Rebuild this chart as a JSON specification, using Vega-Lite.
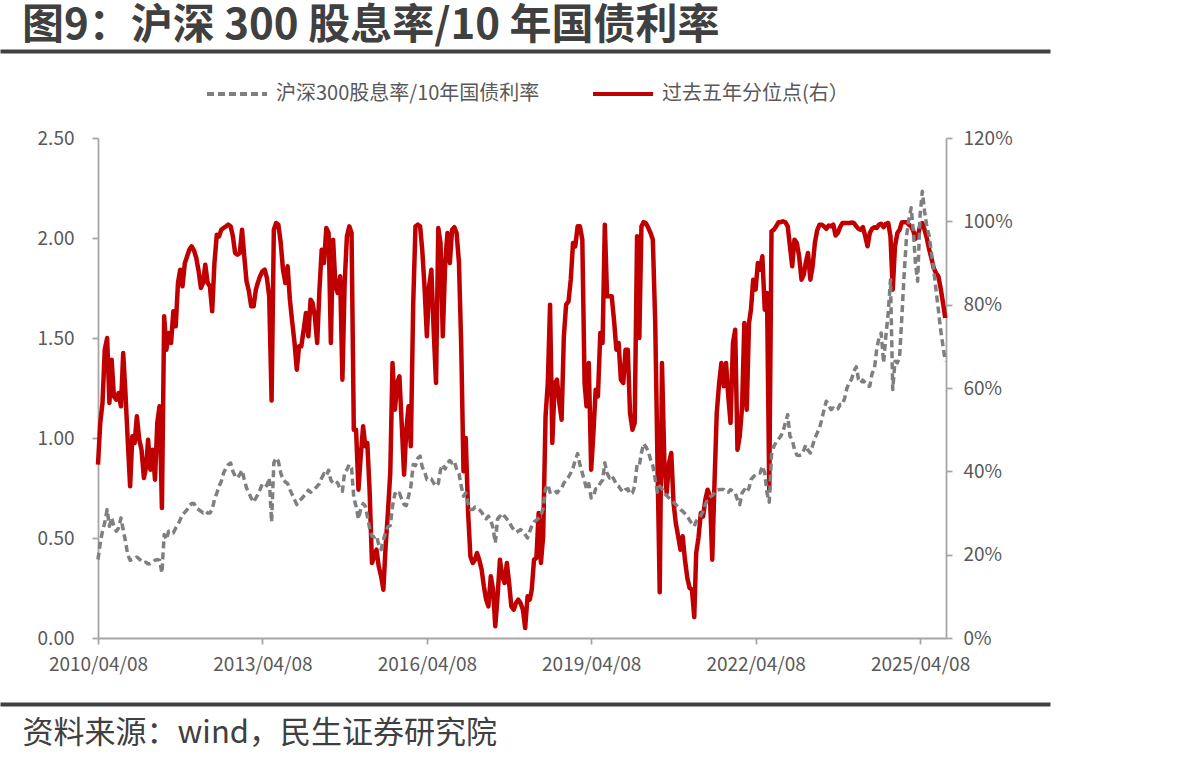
{
  "$schema": "https://vega.github.io/schema/vega-lite/v6.json",
  "width": 848,
  "height": 500,
  "autosize": "none",
  "padding": {"left": 98, "top": 138, "right": 253, "bottom": 127},
  "background": "white",
  "title": {
    "text": "图9：沪深 300 股息率/10 年国债利率",
    "orient": "top",
    "anchor": "start",
    "frame": "group",
    "baseline": "bottom",
    "offset": 1,
    "dx": -76,
    "dy": 40,
    "font": "Noto Sans CJK SC",
    "fontSize": 42,
    "fontWeight": "bold",
    "color": "#404040"
  },
  "config": {
    "view": {"stroke": null},
    "font": "Noto Sans CJK SC",
    "axis": {
      "labelFont": "Noto Sans CJK SC",
      "labelFontSize": 19,
      "labelColor": "#595959",
      "domainColor": "#a6a6a6",
      "domainWidth": 1.8,
      "tickColor": "#a6a6a6",
      "tickWidth": 1.8,
      "tickSize": 6,
      "grid": false,
      "titleFont": "Noto Sans CJK SC"
    }
  },
  "data": {
    "values": [
      {"d":"2010/04/08","r":0.392,"p":0.416},{"d":"2010/04/23","r":0.476,"p":0.516},{"d":"2010/05/08","r":0.534,"p":0.564},{"d":"2010/05/23","r":0.576,"p":0.692},
      {"d":"2010/06/08","r":0.642,"p":0.72},{"d":"2010/06/23","r":0.559,"p":0.564},{"d":"2010/07/08","r":0.6,"p":0.668},{"d":"2010/07/23","r":0.559,"p":0.58},
      {"d":"2010/08/08","r":0.534,"p":0.572},{"d":"2010/08/23","r":0.55,"p":0.588},{"d":"2010/09/08","r":0.6,"p":0.556},{"d":"2010/09/23","r":0.542,"p":0.684},
      {"d":"2010/10/08","r":0.484,"p":0.588},{"d":"2010/10/23","r":0.417,"p":0.476},{"d":"2010/11/08","r":0.389,"p":0.364},{"d":"2010/11/23","r":0.392,"p":0.484},
      {"d":"2010/12/08","r":0.395,"p":0.468},{"d":"2010/12/23","r":0.405,"p":0.532},{"d":"2011/01/08","r":0.395,"p":0.476},{"d":"2011/01/23","r":0.384,"p":0.452},
      {"d":"2011/02/08","r":0.376,"p":0.384},{"d":"2011/02/23","r":0.379,"p":0.412},{"d":"2011/03/08","r":0.37,"p":0.476},{"d":"2011/03/23","r":0.372,"p":0.404},
      {"d":"2011/04/08","r":0.379,"p":0.452},{"d":"2011/04/23","r":0.389,"p":0.38},{"d":"2011/05/08","r":0.392,"p":0.516},{"d":"2011/05/23","r":0.389,"p":0.556},
      {"d":"2011/06/08","r":0.325,"p":0.312},{"d":"2011/06/23","r":0.517,"p":0.772},{"d":"2011/07/08","r":0.492,"p":0.692},{"d":"2011/07/23","r":0.534,"p":0.732},
      {"d":"2011/08/08","r":0.534,"p":0.708},{"d":"2011/08/23","r":0.525,"p":0.784},{"d":"2011/09/08","r":0.55,"p":0.748},{"d":"2011/09/23","r":0.567,"p":0.852},
      {"d":"2011/10/08","r":0.592,"p":0.884},{"d":"2011/10/23","r":0.617,"p":0.844},{"d":"2011/11/08","r":0.629,"p":0.9},{"d":"2011/11/23","r":0.642,"p":0.916},
      {"d":"2011/12/08","r":0.662,"p":0.932},{"d":"2011/12/23","r":0.672,"p":0.94},{"d":"2012/01/08","r":0.672,"p":0.93},{"d":"2012/01/23","r":0.65,"p":0.912},
      {"d":"2012/02/08","r":0.642,"p":0.88},{"d":"2012/02/23","r":0.634,"p":0.84},{"d":"2012/03/08","r":0.625,"p":0.852},{"d":"2012/03/23","r":0.634,"p":0.896},
      {"d":"2012/04/08","r":0.625,"p":0.852},{"d":"2012/04/23","r":0.625,"p":0.844},{"d":"2012/05/08","r":0.642,"p":0.784},{"d":"2012/05/23","r":0.692,"p":0.9},
      {"d":"2012/06/08","r":0.725,"p":0.968},{"d":"2012/06/23","r":0.759,"p":0.964},{"d":"2012/07/08","r":0.784,"p":0.98},{"d":"2012/07/23","r":0.825,"p":0.984},
      {"d":"2012/08/08","r":0.85,"p":0.988},{"d":"2012/08/23","r":0.867,"p":0.992},{"d":"2012/09/08","r":0.875,"p":0.988},{"d":"2012/09/23","r":0.834,"p":0.964},
      {"d":"2012/10/08","r":0.809,"p":0.924},{"d":"2012/10/23","r":0.8,"p":0.92},{"d":"2012/11/08","r":0.817,"p":0.924},{"d":"2012/11/23","r":0.839,"p":0.98},
      {"d":"2012/12/08","r":0.792,"p":0.916},{"d":"2012/12/23","r":0.75,"p":0.856},{"d":"2013/01/08","r":0.725,"p":0.832},{"d":"2013/01/23","r":0.7,"p":0.796},
      {"d":"2013/02/08","r":0.679,"p":0.796},{"d":"2013/02/23","r":0.7,"p":0.836},{"d":"2013/03/08","r":0.717,"p":0.852},{"d":"2013/03/23","r":0.742,"p":0.868},
      {"d":"2013/04/08","r":0.772,"p":0.88},{"d":"2013/04/23","r":0.772,"p":0.884},{"d":"2013/05/08","r":0.762,"p":0.864},{"d":"2013/05/23","r":0.8,"p":0.82},
      {"d":"2013/06/08","r":0.58,"p":0.57},{"d":"2013/06/23","r":0.876,"p":0.98},{"d":"2013/07/08","r":0.9,"p":0.996},{"d":"2013/07/23","r":0.884,"p":0.992},
      {"d":"2013/08/08","r":0.825,"p":0.948},{"d":"2013/08/23","r":0.792,"p":0.884},{"d":"2013/09/08","r":0.78,"p":0.852},{"d":"2013/09/23","r":0.772,"p":0.892},
      {"d":"2013/10/08","r":0.742,"p":0.812},{"d":"2013/10/23","r":0.717,"p":0.76},{"d":"2013/11/08","r":0.692,"p":0.708},{"d":"2013/11/23","r":0.667,"p":0.644},
      {"d":"2013/12/08","r":0.684,"p":0.7},{"d":"2013/12/23","r":0.695,"p":0.7},{"d":"2014/01/08","r":0.709,"p":0.74},{"d":"2014/01/23","r":0.722,"p":0.78},
      {"d":"2014/02/08","r":0.739,"p":0.724},{"d":"2014/02/23","r":0.729,"p":0.812},{"d":"2014/03/08","r":0.739,"p":0.804},{"d":"2014/03/23","r":0.746,"p":0.772},
      {"d":"2014/04/08","r":0.759,"p":0.708},{"d":"2014/04/23","r":0.772,"p":0.836},{"d":"2014/05/08","r":0.8,"p":0.932},{"d":"2014/05/23","r":0.822,"p":0.9},
      {"d":"2014/06/08","r":0.812,"p":0.984},{"d":"2014/06/23","r":0.839,"p":0.972},{"d":"2014/07/08","r":0.789,"p":0.708},{"d":"2014/07/23","r":0.775,"p":0.956},
      {"d":"2014/08/08","r":0.784,"p":0.844},{"d":"2014/08/23","r":0.775,"p":0.828},{"d":"2014/09/08","r":0.742,"p":0.868},{"d":"2014/09/23","r":0.734,"p":0.62},
      {"d":"2014/10/08","r":0.829,"p":0.852},{"d":"2014/10/23","r":0.842,"p":0.964},{"d":"2014/11/08","r":0.867,"p":0.988},{"d":"2014/11/23","r":0.85,"p":0.972},
      {"d":"2014/12/08","r":0.7,"p":0.5},{"d":"2014/12/23","r":0.659,"p":0.5},{"d":"2015/01/08","r":0.595,"p":0.356},{"d":"2015/01/23","r":0.645,"p":0.436},
      {"d":"2015/02/08","r":0.672,"p":0.508},{"d":"2015/02/23","r":0.659,"p":0.46},{"d":"2015/03/08","r":0.609,"p":0.468},{"d":"2015/03/23","r":0.55,"p":0.356},
      {"d":"2015/04/08","r":0.509,"p":0.18},{"d":"2015/04/23","r":0.505,"p":0.196},{"d":"2015/05/08","r":0.512,"p":0.212},{"d":"2015/05/23","r":0.467,"p":0.172},
      {"d":"2015/06/08","r":0.442,"p":0.148},{"d":"2015/06/23","r":0.489,"p":0.116},{"d":"2015/07/08","r":0.529,"p":0.22},{"d":"2015/07/23","r":0.555,"p":0.3},
      {"d":"2015/08/08","r":0.562,"p":0.396},{"d":"2015/08/23","r":0.659,"p":0.66},{"d":"2015/09/08","r":0.722,"p":0.548},{"d":"2015/09/23","r":0.712,"p":0.612},
      {"d":"2015/10/08","r":0.725,"p":0.628},{"d":"2015/10/23","r":0.695,"p":0.516},{"d":"2015/11/08","r":0.667,"p":0.392},{"d":"2015/11/23","r":0.662,"p":0.5},
      {"d":"2015/12/08","r":0.709,"p":0.556},{"d":"2015/12/23","r":0.755,"p":0.46},{"d":"2016/01/08","r":0.867,"p":0.804},{"d":"2016/01/23","r":0.862,"p":0.988},
      {"d":"2016/02/08","r":0.9,"p":0.992},{"d":"2016/02/23","r":0.909,"p":0.988},{"d":"2016/03/08","r":0.855,"p":0.932},{"d":"2016/03/23","r":0.834,"p":0.844},
      {"d":"2016/04/08","r":0.792,"p":0.724},{"d":"2016/04/23","r":0.795,"p":0.844},{"d":"2016/05/08","r":0.795,"p":0.884},{"d":"2016/05/23","r":0.775,"p":0.74},
      {"d":"2016/06/08","r":0.759,"p":0.612},{"d":"2016/06/23","r":0.772,"p":0.984},{"d":"2016/07/08","r":0.842,"p":0.948},{"d":"2016/07/23","r":0.867,"p":0.724},
      {"d":"2016/08/08","r":0.845,"p":0.9},{"d":"2016/08/23","r":0.875,"p":0.972},{"d":"2016/09/08","r":0.887,"p":0.9},{"d":"2016/09/23","r":0.875,"p":0.98},
      {"d":"2016/10/08","r":0.884,"p":0.986},{"d":"2016/10/23","r":0.845,"p":0.972},{"d":"2016/11/08","r":0.822,"p":0.9},{"d":"2016/11/23","r":0.759,"p":0.7},
      {"d":"2016/12/08","r":0.709,"p":0.4},{"d":"2016/12/23","r":0.725,"p":0.48},{"d":"2017/01/08","r":0.672,"p":0.3},{"d":"2017/01/23","r":0.642,"p":0.196},
      {"d":"2017/02/08","r":0.642,"p":0.18},{"d":"2017/02/23","r":0.655,"p":0.188},{"d":"2017/03/08","r":0.65,"p":0.204},{"d":"2017/03/23","r":0.642,"p":0.188},
      {"d":"2017/04/08","r":0.629,"p":0.164},{"d":"2017/04/23","r":0.609,"p":0.124},{"d":"2017/05/08","r":0.595,"p":0.092},{"d":"2017/05/23","r":0.609,"p":0.076},
      {"d":"2017/06/08","r":0.589,"p":0.148},{"d":"2017/06/23","r":0.55,"p":0.116},{"d":"2017/07/08","r":0.475,"p":0.028},{"d":"2017/07/23","r":0.595,"p":0.1},
      {"d":"2017/08/08","r":0.609,"p":0.188},{"d":"2017/08/23","r":0.595,"p":0.148},{"d":"2017/09/08","r":0.609,"p":0.132},{"d":"2017/09/23","r":0.595,"p":0.18},
      {"d":"2017/10/08","r":0.584,"p":0.132},{"d":"2017/10/23","r":0.559,"p":0.076},{"d":"2017/11/08","r":0.542,"p":0.068},{"d":"2017/11/23","r":0.529,"p":0.084},
      {"d":"2017/12/08","r":0.534,"p":0.092},{"d":"2017/12/23","r":0.542,"p":0.084},{"d":"2018/01/08","r":0.534,"p":0.068},{"d":"2018/01/23","r":0.517,"p":0.024},
      {"d":"2018/02/08","r":0.5,"p":0.1},{"d":"2018/02/23","r":0.534,"p":0.092},{"d":"2018/03/08","r":0.559,"p":0.116},{"d":"2018/03/23","r":0.579,"p":0.188},
      {"d":"2018/04/08","r":0.589,"p":0.192},{"d":"2018/04/23","r":0.6,"p":0.3},{"d":"2018/05/08","r":0.612,"p":0.18},{"d":"2018/05/23","r":0.65,"p":0.244},
      {"d":"2018/06/08","r":0.746,"p":0.532},{"d":"2018/06/23","r":0.767,"p":0.612},{"d":"2018/07/08","r":0.729,"p":0.8},{"d":"2018/07/23","r":0.734,"p":0.468},
      {"d":"2018/08/08","r":0.739,"p":0.612},{"d":"2018/08/23","r":0.725,"p":0.62},{"d":"2018/09/08","r":0.739,"p":0.564},{"d":"2018/09/23","r":0.75,"p":0.524},
      {"d":"2018/10/08","r":0.775,"p":0.724},{"d":"2018/10/23","r":0.789,"p":0.8},{"d":"2018/11/08","r":0.805,"p":0.808},{"d":"2018/11/23","r":0.825,"p":0.86},
      {"d":"2018/12/08","r":0.85,"p":0.948},{"d":"2018/12/23","r":0.889,"p":0.94},{"d":"2019/01/08","r":0.922,"p":0.988},{"d":"2019/01/23","r":0.867,"p":0.988},
      {"d":"2019/02/08","r":0.825,"p":0.956},{"d":"2019/02/23","r":0.784,"p":0.612},{"d":"2019/03/08","r":0.746,"p":0.556},{"d":"2019/03/23","r":0.772,"p":0.66},
      {"d":"2019/04/08","r":0.7,"p":0.404},{"d":"2019/04/23","r":0.709,"p":0.492},{"d":"2019/05/08","r":0.746,"p":0.596},{"d":"2019/05/23","r":0.75,"p":0.58},
      {"d":"2019/06/08","r":0.775,"p":0.732},{"d":"2019/06/23","r":0.789,"p":0.708},{"d":"2019/07/08","r":0.876,"p":0.992},{"d":"2019/07/23","r":0.825,"p":0.82},
      {"d":"2019/08/08","r":0.8,"p":0.82},{"d":"2019/08/23","r":0.812,"p":0.82},{"d":"2019/09/08","r":0.792,"p":0.76},{"d":"2019/09/23","r":0.767,"p":0.692},
      {"d":"2019/10/08","r":0.759,"p":0.708},{"d":"2019/10/23","r":0.742,"p":0.62},{"d":"2019/11/08","r":0.729,"p":0.612},{"d":"2019/11/23","r":0.742,"p":0.692},
      {"d":"2019/12/08","r":0.746,"p":0.692},{"d":"2019/12/23","r":0.72,"p":0.54},{"d":"2020/01/08","r":0.725,"p":0.5},{"d":"2020/01/23","r":0.759,"p":0.516},
      {"d":"2020/02/08","r":0.867,"p":0.964},{"d":"2020/02/23","r":0.862,"p":0.72},{"d":"2020/03/08","r":0.925,"p":0.988},{"d":"2020/03/23","r":0.972,"p":0.998},
      {"d":"2020/04/08","r":0.955,"p":0.995},{"d":"2020/04/23","r":0.932,"p":0.984},{"d":"2020/05/08","r":0.892,"p":0.972},{"d":"2020/05/23","r":0.862,"p":0.956},
      {"d":"2020/06/08","r":0.792,"p":0.756},{"d":"2020/06/23","r":0.729,"p":0.42},{"d":"2020/07/08","r":0.759,"p":0.11},{"d":"2020/07/23","r":0.746,"p":0.66},
      {"d":"2020/08/08","r":0.725,"p":0.42},{"d":"2020/08/23","r":0.712,"p":0.348},{"d":"2020/09/08","r":0.7,"p":0.42},{"d":"2020/09/23","r":0.689,"p":0.444},
      {"d":"2020/10/08","r":0.679,"p":0.324},{"d":"2020/10/23","r":0.667,"p":0.276},{"d":"2020/11/08","r":0.655,"p":0.244},{"d":"2020/11/23","r":0.642,"p":0.212},
      {"d":"2020/12/08","r":0.634,"p":0.244},{"d":"2020/12/23","r":0.622,"p":0.188},{"d":"2021/01/08","r":0.609,"p":0.144},{"d":"2021/01/23","r":0.589,"p":0.12},
      {"d":"2021/02/08","r":0.572,"p":0.116},{"d":"2021/02/23","r":0.559,"p":0.05},{"d":"2021/03/08","r":0.584,"p":0.204},{"d":"2021/03/23","r":0.6,"p":0.24},
      {"d":"2021/04/08","r":0.612,"p":0.3},{"d":"2021/04/23","r":0.634,"p":0.292},{"d":"2021/05/08","r":0.667,"p":0.332},{"d":"2021/05/23","r":0.692,"p":0.356},
      {"d":"2021/06/08","r":0.705,"p":0.34},{"d":"2021/06/23","r":0.712,"p":0.188},{"d":"2021/07/08","r":0.725,"p":0.372},{"d":"2021/07/23","r":0.739,"p":0.54},
      {"d":"2021/08/08","r":0.742,"p":0.612},{"d":"2021/08/23","r":0.742,"p":0.66},{"d":"2021/09/08","r":0.742,"p":0.604},{"d":"2021/09/23","r":0.729,"p":0.66},
      {"d":"2021/10/08","r":0.729,"p":0.58},{"d":"2021/10/23","r":0.742,"p":0.516},{"d":"2021/11/08","r":0.734,"p":0.708},{"d":"2021/11/23","r":0.725,"p":0.74},
      {"d":"2021/12/08","r":0.692,"p":0.452},{"d":"2021/12/23","r":0.667,"p":0.484},{"d":"2022/01/08","r":0.725,"p":0.556},{"d":"2022/01/23","r":0.742,"p":0.756},
      {"d":"2022/02/08","r":0.729,"p":0.548},{"d":"2022/02/23","r":0.75,"p":0.756},{"d":"2022/03/08","r":0.792,"p":0.788},{"d":"2022/03/23","r":0.805,"p":0.86},
      {"d":"2022/04/08","r":0.817,"p":0.836},{"d":"2022/04/23","r":0.825,"p":0.9},{"d":"2022/05/08","r":0.825,"p":0.884},{"d":"2022/05/23","r":0.859,"p":0.916},
      {"d":"2022/06/08","r":0.825,"p":0.788},{"d":"2022/06/23","r":0.725,"p":0.828},{"d":"2022/07/08","r":0.679,"p":0.356},{"d":"2022/07/23","r":0.917,"p":0.976},
      {"d":"2022/08/08","r":0.959,"p":0.98},{"d":"2022/08/23","r":0.979,"p":0.988},{"d":"2022/09/08","r":0.995,"p":0.998},{"d":"2022/09/23","r":1.009,"p":0.998},
      {"d":"2022/10/08","r":1.034,"p":1.0},{"d":"2022/10/23","r":1.075,"p":0.998},{"d":"2022/11/08","r":1.117,"p":0.988},{"d":"2022/11/23","r":1.009,"p":0.94},
      {"d":"2022/12/08","r":0.992,"p":0.892},{"d":"2022/12/23","r":0.942,"p":0.956},{"d":"2023/01/08","r":0.915,"p":0.948},{"d":"2023/01/23","r":0.912,"p":0.916},
      {"d":"2023/02/08","r":0.917,"p":0.86},{"d":"2023/02/23","r":0.939,"p":0.872},{"d":"2023/03/08","r":0.965,"p":0.9},{"d":"2023/03/23","r":0.939,"p":0.924},
      {"d":"2023/04/08","r":0.925,"p":0.86},{"d":"2023/04/23","r":0.962,"p":0.892},{"d":"2023/05/08","r":1.0,"p":0.948},{"d":"2023/05/23","r":1.024,"p":0.978},
      {"d":"2023/06/08","r":1.05,"p":0.992},{"d":"2023/06/23","r":1.092,"p":0.992},{"d":"2023/07/08","r":1.142,"p":0.988},{"d":"2023/07/23","r":1.184,"p":0.982},
      {"d":"2023/08/08","r":1.167,"p":0.99},{"d":"2023/08/23","r":1.142,"p":0.988},{"d":"2023/09/08","r":1.15,"p":0.992},{"d":"2023/09/23","r":1.139,"p":0.966},
      {"d":"2023/10/08","r":1.145,"p":0.972},{"d":"2023/10/23","r":1.167,"p":0.986},{"d":"2023/11/08","r":1.167,"p":0.996},{"d":"2023/11/23","r":1.2,"p":0.996},
      {"d":"2023/12/08","r":1.25,"p":0.996},{"d":"2023/12/23","r":1.275,"p":0.996},{"d":"2024/01/08","r":1.295,"p":0.997},{"d":"2024/01/23","r":1.334,"p":0.996},
      {"d":"2024/02/08","r":1.356,"p":0.988},{"d":"2024/02/23","r":1.292,"p":0.982},{"d":"2024/03/08","r":1.275,"p":0.98},{"d":"2024/03/23","r":1.289,"p":0.986},
      {"d":"2024/04/08","r":1.275,"p":0.964},{"d":"2024/04/23","r":1.259,"p":0.94},{"d":"2024/05/08","r":1.259,"p":0.972},{"d":"2024/05/23","r":1.322,"p":0.982},
      {"d":"2024/06/08","r":1.346,"p":0.986},{"d":"2024/06/23","r":1.442,"p":0.984},{"d":"2024/07/08","r":1.5,"p":0.992},{"d":"2024/07/23","r":1.525,"p":0.994},
      {"d":"2024/08/08","r":1.376,"p":0.986},{"d":"2024/08/23","r":1.509,"p":0.994},{"d":"2024/09/08","r":1.626,"p":0.996},{"d":"2024/09/23","r":1.792,"p":0.964},
      {"d":"2024/10/08","r":1.242,"p":0.836},{"d":"2024/10/23","r":1.384,"p":0.94},{"d":"2024/11/08","r":1.376,"p":0.972},{"d":"2024/11/23","r":1.409,"p":0.98},
      {"d":"2024/12/08","r":1.609,"p":0.998},{"d":"2024/12/23","r":1.817,"p":0.998},{"d":"2025/01/08","r":2.009,"p":0.998},{"d":"2025/01/23","r":2.092,"p":0.992},
      {"d":"2025/02/08","r":2.151,"p":0.988},{"d":"2025/02/23","r":2.026,"p":0.976},{"d":"2025/03/08","r":1.876,"p":0.958},{"d":"2025/03/23","r":1.784,"p":0.964},
      {"d":"2025/04/08","r":2.109,"p":0.988},{"d":"2025/04/23","r":2.234,"p":0.996},{"d":"2025/05/08","r":2.134,"p":0.98},{"d":"2025/05/23","r":2.059,"p":0.96},
      {"d":"2025/06/08","r":2.009,"p":0.932},{"d":"2025/06/23","r":1.926,"p":0.912},{"d":"2025/07/08","r":1.842,"p":0.888},{"d":"2025/07/23","r":1.742,"p":0.876},
      {"d":"2025/08/08","r":1.642,"p":0.868},{"d":"2025/08/23","r":1.542,"p":0.84},{"d":"2025/09/08","r":1.459,"p":0.804},{"d":"2025/09/23","r":1.384,"p":0.768}
    ]
  },
  "resolve": {"scale": {"x": "independent", "y": "independent"}},
  "layer": [
    {
      "transform": [{"fold": ["p"], "as": ["series", "value"]}],
      "mark": {"type": "line", "strokeWidth": 4.5, "strokeJoin": "round"},
      "encoding": {
        "x": {
          "field": "d",
          "type": "temporal",
          "scale": {"domain": [{"year": 2010, "month": 4, "date": 8}, {"year": 2025, "month": 9, "date": 28}]},
          "axis": null
        },
        "y": {
          "field": "value",
          "type": "quantitative",
          "scale": {"domain": [0, 1.2], "nice": false},
          "axis": {"orient": "right", "values": [0, 0.2, 0.4, 0.6, 0.8, 1.0, 1.2], "format": ".0%", "labelPadding": 11, "title": null}
        },
        "color": {
          "field": "series",
          "type": "nominal",
          "scale": {"domain": ["r", "p"], "range": ["#7f7f7f", "#c00000"]},
          "legend": {
            "title": null,
            "orient": "none",
            "legendX": 107,
            "legendY": -76,
            "direction": "horizontal",
            "symbolType": "stroke",
            "symbolSize": 3600,
            "symbolStrokeWidth": 4,
            "labelFont": "Noto Sans CJK SC",
            "labelFontSize": 20,
            "labelColor": "#595959",
            "labelLimit": 400,
            "labelOffset": 7,
            "columnPadding": 45,
            "labelExpr": "datum.value == 'r' ? '沪深300股息率/10年国债利率' : '过去五年分位点(右）'"
          }
        },
        "strokeDash": {
          "field": "series",
          "type": "nominal",
          "scale": {"domain": ["r", "p"], "range": [[7, 4], [1, 0]]},
          "legend": {
            "title": null,
            "orient": "none",
            "legendX": 107,
            "legendY": -76,
            "direction": "horizontal",
            "symbolType": "stroke",
            "symbolSize": 3600,
            "symbolStrokeWidth": 4,
            "labelFont": "Noto Sans CJK SC",
            "labelFontSize": 20,
            "labelColor": "#595959",
            "labelLimit": 400,
            "labelOffset": 7,
            "columnPadding": 45,
            "labelExpr": "datum.value == 'r' ? '沪深300股息率/10年国债利率' : '过去五年分位点(右）'"
          }
        }
      }
    },
    {
      "transform": [{"fold": ["r"], "as": ["series", "value"]}],
      "mark": {"type": "line", "strokeWidth": 3.5, "strokeJoin": "round"},
      "encoding": {
        "x": {
          "field": "d",
          "type": "temporal",
          "scale": {"domain": [{"year": 2010, "month": 4, "date": 8}, {"year": 2025, "month": 9, "date": 28}]},
          "axis": {
            "orient": "bottom",
            "values": [
              {"year": 2010, "month": 4, "date": 8},
              {"year": 2013, "month": 4, "date": 8},
              {"year": 2016, "month": 4, "date": 8},
              {"year": 2019, "month": 4, "date": 8},
              {"year": 2022, "month": 4, "date": 8},
              {"year": 2025, "month": 4, "date": 8}
            ],
            "format": "%Y/%m/%d",
            "labelFlush": false,
            "labelOverlap": false,
            "labelPadding": 11,
            "title": null
          }
        },
        "y": {
          "field": "value",
          "type": "quantitative",
          "scale": {"domain": [0, 2.5], "nice": false},
          "axis": {"orient": "left", "values": [0, 0.5, 1, 1.5, 2, 2.5], "format": ".2f", "labelPadding": 18, "title": null}
        },
        "color": {"field": "series", "type": "nominal", "scale": {"domain": ["r", "p"], "range": ["#7f7f7f", "#c00000"]}},
        "strokeDash": {"field": "series", "type": "nominal", "scale": {"domain": ["r", "p"], "range": [[7, 4], [1, 0]]}}
      }
    },
    {
      "mark": {"type": "point", "opacity": 0, "size": 1},
      "encoding": {
        "x": {
          "field": "d",
          "type": "temporal",
          "scale": {"range": [-98, 952]},
          "axis": {
            "orient": "top",
            "offset": 87,
            "domainColor": "#404040",
            "domainWidth": 4,
            "ticks": false,
            "labels": false,
            "title": null
          }
        }
      }
    },
    {
      "mark": {"type": "point", "opacity": 0, "size": 1},
      "encoding": {
        "x": {
          "field": "d",
          "type": "temporal",
          "scale": {"range": [-98, 952]},
          "axis": {
            "orient": "bottom",
            "offset": 66,
            "domainColor": "#404040",
            "domainWidth": 4,
            "ticks": false,
            "labels": false,
            "title": "资料来源：wind，民生证券研究院",
            "titleFontSize": 31,
            "titleFontWeight": "normal",
            "titleColor": "#404040",
            "titleAnchor": "start",
            "titleAlign": "left",
            "titleBaseline": "middle",
            "titleX": -76,
            "titleY": 29
          }
        }
      }
    }
  ]
}
